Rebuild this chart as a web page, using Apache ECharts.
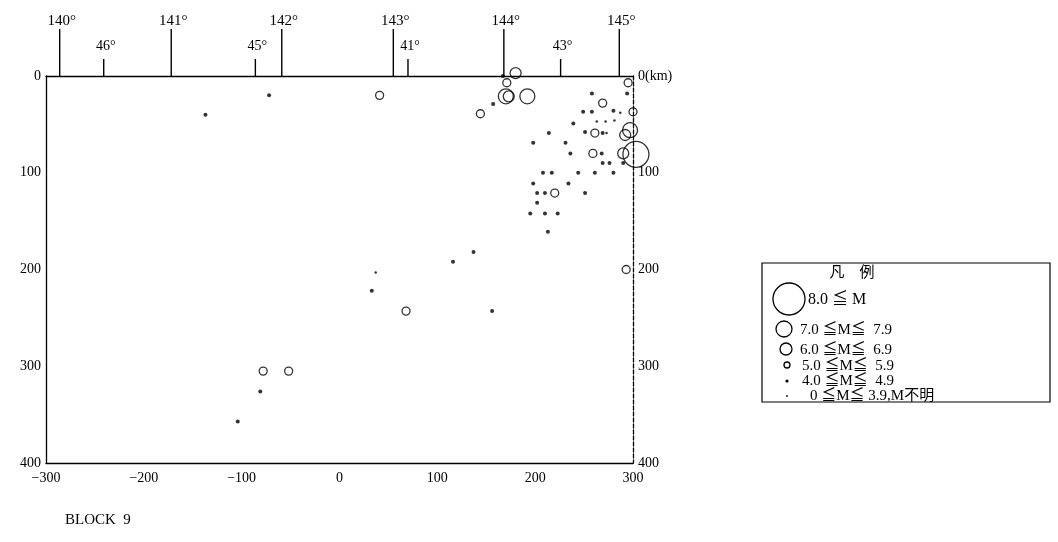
<!DOCTYPE html>
<html><head><meta charset="utf-8">
<script src="https://cdn.jsdelivr.net/npm/echarts@6/dist/echarts.min.js"></script>
<style>html,body{margin:0;padding:0;background:#fff}#c{width:1058px;height:542px}</style>
</head><body><div id="c"></div>
<script>
// ---- data ----
const xTickLabels = ['−300','−200','−100','0','100','200','300'];
const leftDepthLabels = ['0','100','200','300','400'];
const rightDepthLabels = ['0(km)','100','200','300','400'];
const lonTicksKm = [-286,-172,-59,55,168,286];
const lonLabels = ['140°','141°','142°','143°','144°','145°'];
const latTicksKm = [-241,-86,70,226];
const latLabels = ['46°','45°','41°','43°'];
// [distance km, depth km]
const mag8 = [[303,81]];
const mag7 = [[170,21],[192,21],[297,56]];
const mag6 = [[180,-3],[173,21],[292,61],[290,80]];
const mag5 = [[41,20],[144,39],[68,243],[-78,305],[-52,305],[171,7],[295,7],[269,28],[300,37],[261,59],[259,80],[220,121],[293,200]];
const mag4 = [[-137,40],[-72,20],[157,29],[116,192],[137,182],[33,222],[156,243],[-81,326],[-104,357],[167,0],
  [258,18],[294,18],[249,37],[258,37],[280,36],[239,49],[251,58],[214,59],[269,59],[198,69],[231,69],[236,80],[268,80],
  [269,90],[276,90],[290,90],[208,100],[217,100],[244,100],[261,100],[280,100],[198,111],[234,111],[202,121],[210,121],
  [251,121],[202,131],[195,142],[210,142],[223,142],[213,161]];
const mag0 = [[37,203],[287,38],[263,47],[272,47],[281,46],[273,59]];
const legendTexts = ['8.0 ≦ M','7.0 ≦M≦  7.9','6.0 ≦M≦  6.9','5.0 ≦M≦  5.9','4.0 ≦M≦  4.9','0 ≦M≦ 3.9,M不明'];

// ---- chart ----
const serif = '"Liberation Serif","Noto Sans CJK JP",serif';
const chart = echarts.init(document.getElementById('c'), null, {renderer:'canvas'});
const circleStyle = {color:'rgba(0,0,0,0)', borderColor:'#000', borderWidth:1.3};
const dotStyle = {color:'#000'};
function sc(name, data, size, style){
  return {type:'scatter', name, data, symbol:'circle', symbolSize:size, itemStyle:style,
    xAxisIndex:0, yAxisIndex:0, clip:false, silent:true, z:3};
}
function tickRenderer(len, gap, font, labels){
  return function(params, api){
    const p = api.coord([api.value(0), 0]);
    const lbl = labels[api.value(1)];
    return {type:'group', children:[
      {type:'line', shape:{x1:p[0],y1:p[1],x2:p[0],y2:p[1]-len}, style:{stroke:'#000', lineWidth:1.4}},
      {type:'text', x:p[0]+2, y:p[1]-len-gap, style:{text:lbl, fill:'#000', font:font, align:'center', verticalAlign:'middle'}}
    ]};
  };
}
const L = 46, R = 425;
const legendX = 762, legendY = 263;
const legendSymbols = [
  {cx:789, cy:299, r:16, fill:false},
  {cx:784, cy:329, r:8, fill:false},
  {cx:786, cy:349, r:6, fill:false},
  {cx:787, cy:365, r:3, fill:false},
  {cx:787, cy:381, r:1.6, fill:true},
  {cx:787, cy:396, r:0.9, fill:true}
];
const legendTextPos = [[808,300,16],[800,330,15],[800,350,15],[802,366,15],[802,381,15],[810,396,15]];
const graphics = [
  {type:'rect', shape:{x:legendX, y:legendY, width:288, height:139}, style:{fill:'none', stroke:'#000', lineWidth:1.2}},
  {type:'text', x:852, y:273, style:{text:'凡　例', font:'15px '+serif, fill:'#000', align:'center', verticalAlign:'middle'}}
];
legendSymbols.forEach((s,i)=>{
  graphics.push({type:'circle', shape:{cx:s.cx, cy:s.cy, r:s.r},
    style: s.fill ? {fill:'#000'} : {fill:'none', stroke:'#000', lineWidth:1.3}});
  const t = legendTextPos[i];
  graphics.push({type:'text', x:t[0], y:t[1], style:{text:legendTexts[i], font:t[2]+'px '+serif, fill:'#000', verticalAlign:'middle'}});
});
graphics.push({type:'text', x:65, y:520, style:{text:'BLOCK  9', font:'15px '+serif, fill:'#000', verticalAlign:'middle'}});

chart.setOption({
  animation:false,
  backgroundColor:'#fff',
  grid:[
    {left:L, right:R, top:76, bottom:79},
    {left:L, right:R, top:0, height:76}
  ],
  xAxis:[
    {gridIndex:0, type:'value', min:-300, max:300, interval:100, position:'bottom',
      axisLine:{show:true, onZero:false, lineStyle:{color:'#000', width:1.3}}, axisTick:{show:false}, splitLine:{show:false},
      axisLabel:{color:'#000', fontFamily:serif, fontSize:14, margin:8,
        formatter:(v)=>xTickLabels[Math.round((v+300)/100)]}},
    {gridIndex:0, type:'value', min:-300, max:300, position:'top',
      axisLine:{show:true, onZero:false, lineStyle:{color:'#000', width:1.3}}, axisTick:{show:false}, axisLabel:{show:false}, splitLine:{show:false}},
    {gridIndex:1, type:'value', min:-300, max:300, show:false}
  ],
  yAxis:[
    {gridIndex:0, type:'value', min:0, max:400, interval:100, inverse:true, position:'left',
      axisLine:{show:true, onZero:false, lineStyle:{color:'#000', width:1.3}}, axisTick:{show:false}, splitLine:{show:false},
      axisLabel:{color:'#000', fontFamily:serif, fontSize:14, margin:5,
        formatter:(v)=>leftDepthLabels[Math.round(v/100)]}},
    {gridIndex:0, type:'value', min:0, max:400, interval:100, inverse:true, position:'right',
      axisLine:{show:true, onZero:false, lineStyle:{color:'#000', width:1.3, type:[4,2]}}, axisTick:{show:false}, splitLine:{show:false},
      axisLabel:{color:'#000', fontFamily:serif, fontSize:14, margin:5,
        formatter:(v)=>rightDepthLabels[Math.round(v/100)]}},
    {gridIndex:1, type:'value', min:0, max:1, show:false}
  ],
  series:[
    sc('8.0≦M', mag8, 26, circleStyle),
    sc('7.0-7.9', mag7, 15, circleStyle),
    sc('6.0-6.9', mag6, 11, circleStyle),
    sc('5.0-5.9', mag5, 8, circleStyle),
    sc('4.0-4.9', mag4, 4, dotStyle),
    sc('<4.0', mag0, 2.5, dotStyle),
    {type:'custom', xAxisIndex:2, yAxisIndex:2, clip:false, silent:true,
      data: lonTicksKm.map((v,i)=>[v,i]),
      renderItem: tickRenderer(47, 8, '15px '+serif, lonLabels)},
    {type:'custom', xAxisIndex:2, yAxisIndex:2, clip:false, silent:true,
      data: latTicksKm.map((v,i)=>[v,i]),
      renderItem: tickRenderer(17, 13, '14px '+serif, latLabels)}
  ],
  graphic: graphics
});
</script>
</body></html>
